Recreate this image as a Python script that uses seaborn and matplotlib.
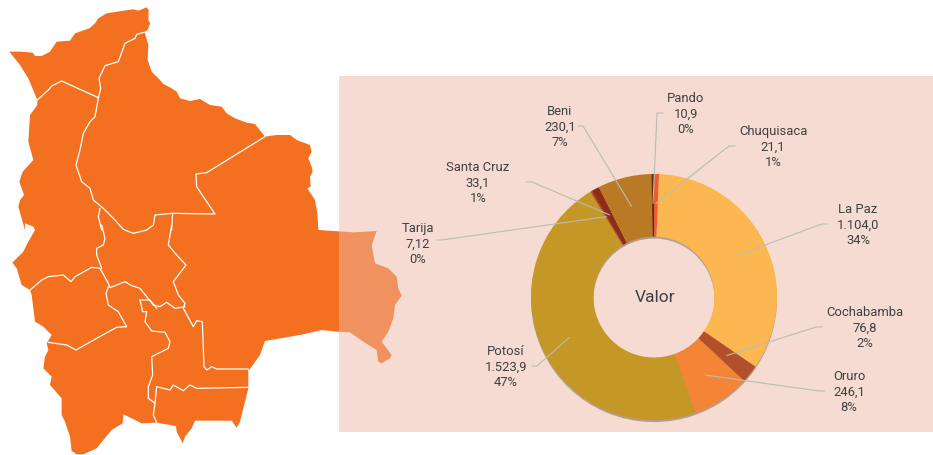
import numpy as np
import seaborn as sns
import matplotlib.pyplot as plt

departments = ["Chuquisaca", "La Paz", "Cochabamba", "Oruro", "Potosí", "Tarija", "Santa Cruz", "Beni", "Pando"]
values = [21.1, 1104.0, 76.8, 246.1, 1523.9, 7.12, 33.1, 230.1, 10.9]
value_labels = ["21,1", "1.104,0", "76,8", "246,1", "1.523,9", "7,12", "33,1", "230,1", "10,9"]
slice_colors = ["#F15A2B", "#FDB750", "#B1502B", "#F58536", "#C49726", "#B5442A", "#8E2C16", "#BA7A25", "#5C2C10"]
center_label = "Valor"

# map outline, in thirds of a pixel (north half, south half has y offset of 225px)
outline_north = [(28,155),(60,155),(98,158),(105,168),(125,168),(150,155),(170,125),(210,122),(225,100),(268,85),
    (285,70),(295,55),(320,40),(370,32),(400,28),(415,32),(440,22),(446,30),(445,60),(450,70),(445,85),(435,100),
    (445,135),(443,180),(455,215),(480,240),(490,252),(510,262),(530,275),(540,295),(570,303),(600,297),(630,315),
    (665,320),(680,340),(705,355),(740,368),(765,372),(795,410),(830,405),(870,405),(890,420),(930,435),(935,455),
    (925,475),(935,500),(938,515),(930,530),(932,560),(922,565),(945,600),(952,640),(955,690)]
outline_south = [(955,15),(1060,22),(1130,18),(1115,60),(1125,115),(1165,130),(1190,155),(1195,190),(1205,212),
    (1185,240),(1180,280),(1165,320),(1145,350),(1175,390),(1170,400),(1145,415),(1135,410),(1130,375),(1090,350),
    (1050,322),(1010,320),(965,315),(900,330),(795,348),(780,390),(750,432),(745,435),(745,490),(720,590),(710,608),
    (695,587),(585,587),(575,610),(555,635),(548,655),(530,620),(528,603),(470,593),(425,595),(385,575),(370,568),
    (368,595),(335,615),(310,645),(290,670),(250,688),(230,688),(215,678),(210,635),(195,590),(185,570),(185,520),
    (150,480),(155,455),(130,430),(135,395),(145,375),(140,355),(155,330),(130,305),(105,290),(95,210),(90,195),
    (65,180),(50,130),(37,113),(70,80),(85,50),(105,15),(100,5),(75,-5)]
outline_west = [(75,690),(55,620),(60,600),(72,585),(58,545),(68,515),(100,480),(85,425),(90,345),(112,315),
    (112,300),(85,235),(60,195),(28,155)]

# internal borders, same units. n = north half, s = south half
borders_n = [
    [(112,300),(145,270),(155,258),(185,243),(295,293)],
    [(440,95),(410,103),(405,115),(375,130),(355,185),(315,197),(297,235),(302,265),(295,295),(285,350),(270,365),
     (250,400),(240,450),(228,495),(245,545),(270,565),(280,600),(310,625),(340,655),(370,688),(400,700),(440,690),(460,675),
     (465,645),(515,640),(645,642),(610,590),(590,560),(588,522),(620,518),(795,410)],
    [(300,625),(295,650),(305,690)],
    [(518,640),(515,690)],
]
borders_s = [
    [(305,0),(315,40),(310,60),(290,70),(290,90),(305,130)],
    [(515,0),(505,60),(530,90),(558,120),(520,170),(535,210),(555,235),(550,250),(580,305),(590,287),(607,290),
     (612,425),(620,435),(635,425),(650,432),(745,432)],
    [(90,195),(125,165),(145,155),(190,150),(213,170),(225,155),(275,127),(300,130),(325,175),(330,188),(375,170),
     (395,182),(420,190),(460,240),(480,245),(500,232),(525,250),(555,245)],
    [(325,185),(318,205),(325,240),(355,260),(380,305),(350,307),(290,340),(228,375),(200,360),(145,352)],
    [(420,225),(450,225),(470,250)],
    [(420,225),(428,260),(440,260),(435,290),(455,318),(495,322),(510,350),(505,370),(455,395),(458,450),(445,485),
     (445,520),(465,535),(470,485),(510,495),(520,480),(550,497),(570,480),(590,490),(745,487)],
    [(465,535),(460,570),(470,593)],
]

# label layout: text centre x, middle line y, leader elbow, leader end (pixels from top left)
label_pos = {
    "Chuquisaca": (773, 147, (729, 146), (735, 146)),
    "La Paz": (858, 225, (822, 224), (828, 224)),
    "Cochabamba": (865, 328, (816, 327), (822, 327)),
    "Oruro": (849, 392, (819, 391), (825, 391)),
    "Potosí": (506, 367, (537, 366), (532, 366)),
    "Tarija": (418, 244, (442, 240), (436, 240)),
    "Santa Cruz": (478, 183, (532, 182), (526, 182)),
    "Beni": (560, 127, (583, 126), (578, 126)),
    "Pando": (686, 114, (657, 113), (663, 113)),
}

W, H = 933, 455
CX, CY, R, R_IN = 654, 297, 123, 60.5


def from_north(pts):
    return [(x / 3, H - y / 3) for x, y in pts]


def from_south(pts):
    return [(x / 3, H - (225 + y / 3)) for x, y in pts]


sns.set_theme(style="white")
plt.rcParams["font.family"] = ["Roboto", "DejaVu Sans"]
palette = sns.color_palette(slice_colors)

fig = plt.figure(figsize=(W / 100, H / 100), dpi=100, facecolor="white")
ax = fig.add_axes([0, 0, 1, 1])

# the map
outline = from_north(outline_north) + from_south(outline_south) + from_north(outline_west)
ax.fill(*zip(*outline), color="#F37021", lw=0, zorder=1)
for b in borders_n:
    ax.plot(*zip(*from_north(b)), color="white", lw=0.9, zorder=2)
for b in borders_s:
    ax.plot(*zip(*from_south(b)), color="white", lw=0.9, zorder=2)

# translucent panel on top of the map
ax.fill_between([339, W], H - 432, H - 76, color="#ECB7A2", alpha=0.49, lw=0, zorder=3)

# the donut
wedges, _ = ax.pie(values, colors=palette, startangle=90, counterclock=False, center=(CX, H - CY), radius=R,
                   wedgeprops={"width": R - R_IN, "linewidth": 0, "zorder": 4},
                   shadow={"ox": 0, "oy": -1.5, "alpha": 0.35})
ax.set_xlim(0, W)
ax.set_ylim(0, H)
ax.set_aspect("equal")
ax.axis("off")

ax.text(CX + 1, H - 298, center_label, ha="center", va="center", fontsize=12.5, color="#404040", zorder=6)

total = sum(values)
for w, name, v, vl in zip(wedges, departments, values, value_labels):
    mid = np.deg2rad((w.theta1 + w.theta2) / 2)
    anchor = (CX + 0.76 * R * np.cos(mid), H - CY + 0.76 * R * np.sin(mid))
    tx, ty, elbow, end = label_pos[name]
    ax.plot([anchor[0], elbow[0], end[0]], [anchor[1], H - elbow[1], H - end[1]], color="#B9BDB4", lw=0.8, zorder=5)
    ax.text(tx, H - ty, f"{name}\n{vl}\n{v / total:.0%}", ha="center", va="center", fontsize=9.4,
            color="#404040", linespacing=1.27, zorder=6)

fig.savefig("out.png", dpi=100)
